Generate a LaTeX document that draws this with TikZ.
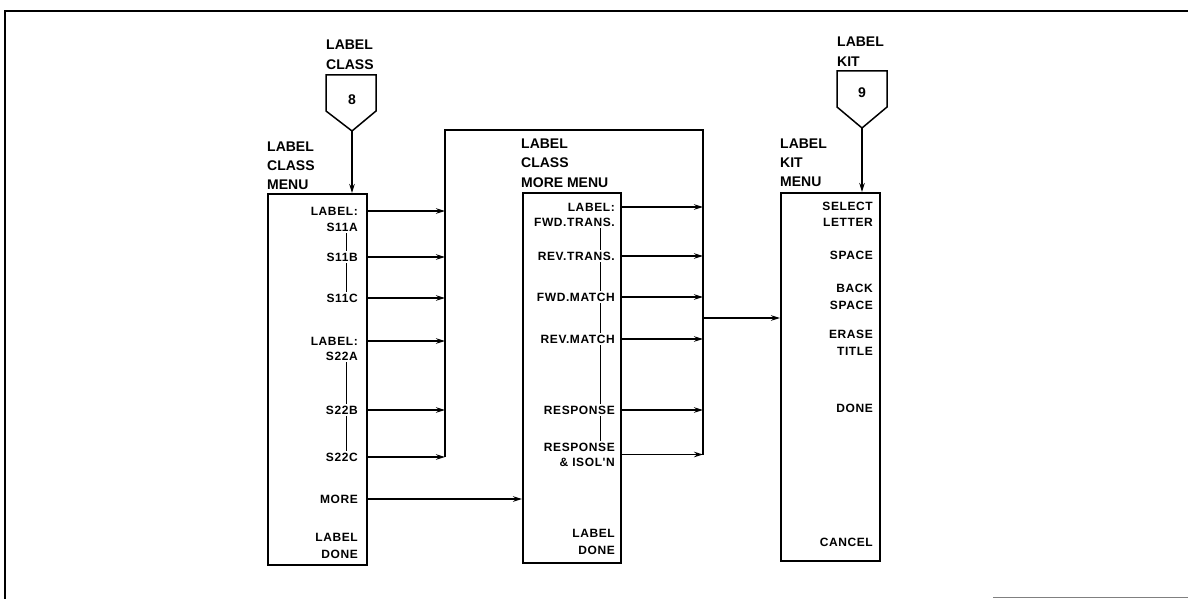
\documentclass[tikz,border=0pt]{standalone}
\usepackage{fontspec}
\setmainfont{Liberation Sans}
\newfontfamily\itemfam[LetterSpace=5]{Liberation Sans}
\usetikzlibrary{arrows.meta,calc}
\newcommand{\headfnt}{\bfseries\fontsize{14}{16}\selectfont}
\newcommand{\itemfnt}{\itemfam\bfseries\fontsize{12}{14}\selectfont}
\tikzset{
  menubox/.style={draw, line width=1.5pt, inner sep=0pt, anchor=north west},
  item/.style={font=\itemfnt, anchor=east, inner sep=0pt, text height=8.5pt, text depth=0pt},
  head/.style={font=\headfnt, anchor=base west, inner sep=0pt},
  digit/.style={font=\headfnt, inner sep=0pt},
  conn/.style={line width=1.5pt, -{Stealth[length=9pt,width=5.5pt]}},
  wire/.style={line width=1.5pt},
  tie/.style={line width=1pt, shorten <=2pt, shorten >=2pt},
  pent/.style={line width=1.5pt}
}
\begin{document}
\begin{tikzpicture}[x=1pt,y=-1pt]
\useasboundingbox (0,0) rectangle (1188,599);
% frame
\draw[line width=2pt] (5,599) -- (5,11) -- (1188,11);
\draw[line width=1pt, gray] (993,597) -- (1188,597);

% menu boxes
\node[menubox, minimum width=99pt, minimum height=371pt] (m1) at (267,193) {};
\node[menubox, minimum width=98pt, minimum height=370pt] (m2) at (522,192) {};
\node[menubox, minimum width=99pt, minimum height=368pt] (m3) at (780,192) {};

% pentagon 8
\draw[pent] (326,75) -- (376,75) -- (376,111) -- (352,131) -- (326,111) -- cycle;
\coordinate (p8) at (352,131);
\node[digit] (d8) at (352,100) {8};
\node[head] (p8l1) at (326,50) {LABEL};
\node[head] (p8l2) at (326,70) {CLASS};
\draw[conn] (p8) -- (p8 |- m1.north);

% pentagon 9
\draw[pent] (837,71) -- (887,71) -- (887,107) -- (862,128) -- (837,107) -- cycle;
\coordinate (p9) at (862,128);
\node[digit] (d9) at (862,93) {9};
\node[head] (p9l1) at (837,47) {LABEL};
\node[head] (p9l2) at (837,67) {KIT};
\draw[conn] (p9) -- (p9 |- m3.north);

% headings
\node[head] (h11) at (267,151) {LABEL};
\node[head] (h12) at (267,170) {CLASS};
\node[head] (h13) at (267,189) {MENU};
\node[head] (h21) at (521,148) {LABEL};
\node[head] (h22) at (521,167) {CLASS};
\node[head] (h23) at (521,187) {MORE MENU};
\node[head] (h31) at (780,148) {LABEL};
\node[head] (h32) at (780,167) {KIT};
\node[head] (h33) at (780,186) {MENU};

% box 1 items
\node[item] (a1) at (358,211) {LABEL:};
\node[item] (a2) at (358,227) {S11A};
\node[item] (a3) at (358,257) {S11B};
\node[item] (a4) at (358,298) {S11C};
\node[item] (a5) at (358,341) {LABEL:};
\node[item] (a6) at (358,356) {S22A};
\node[item] (a7) at (358,410) {S22B};
\node[item] (a8) at (358,457) {S22C};
\node[item] (a9) at (358,499) {MORE};
\node[item] (a10) at (358,537) {LABEL};
\node[item] (a11) at (358,554) {DONE};
\coordinate (t1) at (346,0);
\draw[tie] (a2.south -| t1) -- (a3.north -| t1);
\draw[tie] (a3.south -| t1) -- (a4.north -| t1);
\draw[tie] (a6.south -| t1) -- (a7.north -| t1);
\draw[tie] (a7.south -| t1) -- (a8.north -| t1);

% box 2 items
\node[item] (b1) at (615,207) {LABEL:};
\node[item] (b2) at (615,222) {FWD.TRANS.};
\node[item] (b3) at (615,256) {REV.TRANS.};
\node[item] (b4) at (615,297) {FWD.MATCH};
\node[item] (b5) at (615,339) {REV.MATCH};
\node[item] (b6) at (615,410) {RESPONSE};
\node[item] (b7) at (615,447) {RESPONSE};
\node[item] (b8) at (615,462) {\& ISOL'N};
\node[item] (b9) at (615,533) {LABEL};
\node[item] (b10) at (615,550) {DONE};
\coordinate (t2) at (600,0);
\draw[tie] (b2.south -| t2) -- (b3.north -| t2);
\draw[tie] (b3.south -| t2) -- (b4.north -| t2);
\draw[tie] (b4.south -| t2) -- (b5.north -| t2);
\draw[tie] (b5.south -| t2) -- (b6.north -| t2);
\draw[tie] (b6.south -| t2) -- (b7.north -| t2);
\coordinate (b78) at ($(b7)!0.5!(b8)$);

% box 3 items
\node[item] (c1) at (873,206) {SELECT};
\node[item] (c2) at (873,222) {LETTER};
\node[item] (c3) at (873,255) {SPACE};
\node[item] (c4) at (873,288) {BACK};
\node[item] (c5) at (873,305) {SPACE};
\node[item] (c6) at (873,334) {ERASE};
\node[item] (c7) at (873,351) {TITLE};
\node[item] (c8) at (873,408) {DONE};
\node[item] (c9) at (873,542) {CANCEL};

% buses
\coordinate (busA) at (445,0);
\coordinate (busB) at (703,0);
\coordinate (topy) at (0,130);
\draw[wire] (a8 -| busA) -- (busA |- topy) -- (busB |- topy) -- (b78 -| busB);

\foreach \n in {a1,a3,a4,a5,a7,a8}{
  \draw[conn] (\n -| m1.east) -- (\n -| busA);
}
\foreach \n in {b1,b3,b4,b5,b6,b78}{
  \draw[conn] (\n -| m2.east) -- (\n -| busB);
}
\draw[conn] (a9 -| m1.east) -- (a9 -| m2.west);
\coordinate (j) at (703,318);
\draw[conn] (j) -- (j -| m3.west);
\end{tikzpicture}
\end{document}
